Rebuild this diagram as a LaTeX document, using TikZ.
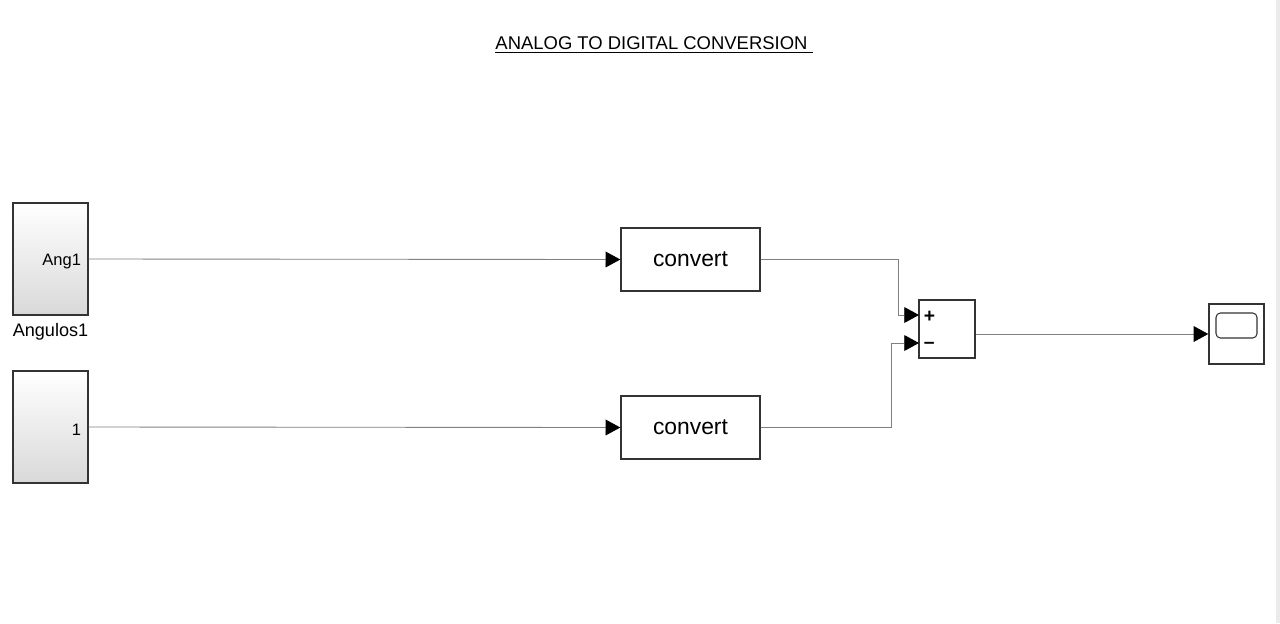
\documentclass[tikz,border=0pt]{standalone}
\usepackage{fontspec}
\setmainfont{Liberation Sans}
\usetikzlibrary{arrows.meta}

\tikzset{
  blk/.style={draw=black!80,line width=0.8pt,inner sep=0pt},
  srcblk/.style={blk,minimum width=1.5cm,minimum height=2.24cm,top color=white,bottom color=black!15},
  cvblk/.style={blk,fill=white,minimum width=2.78cm,minimum height=1.26cm,font=\fontsize{13}{15}\selectfont},
  sig/.style={draw=black!50,line width=0.5pt,-{Triangle[length=8.4pt,width=9pt,color=black,fill=black]}},
  wire/.style={draw=black!50,line width=0.5pt}
}

\begin{document}
\begin{tikzpicture}[x=0.02cm,y=-0.02cm]
\useasboundingbox (0,0) rectangle (1280,623);
\fill[black!8] (1276,0) rectangle (1280,623);

% title
\node (title) at (654,45) {\fontsize{10.5}{12}\selectfont\underline{ANALOG TO DIGITAL CONVERSION\ }};

% sources
\node[srcblk] (ang) at (50.5,259) {};
\node[anchor=east,font=\fontsize{9.4}{11}\selectfont] (angport) at ([xshift=-0.03cm,yshift=-0.06cm]ang.east) {Ang1};
\node[anchor=north,inner sep=4pt,font=\fontsize{10.3}{12}\selectfont] (angname) at (ang.south) {Angulos1};
\node[srcblk] (one) at (50.5,427) {};
\node[anchor=east,font=\fontsize{9.4}{11}\selectfont] (oneport) at ([xshift=-0.03cm,yshift=-0.06cm]one.east) {1};

% converters
\node[cvblk] (cv1) at (690.5,259.5) {convert};
\node[cvblk] (cv2) at (690.5,427.5) {convert};

% sum
\node[blk,minimum width=1.12cm,minimum height=1.16cm] (sum) at (947,329) {};
\coordinate (sp) at (919,315);
\coordinate (sm) at (919,343);
\node[anchor=west,inner sep=0pt,font=\fontsize{11}{12}\selectfont\bfseries] (plus) at ([xshift=0.09cm,yshift=-0.04cm]sp) {+};
\node[anchor=west,inner sep=0pt,font=\fontsize{11}{12}\selectfont\bfseries] (minus) at ([xshift=0.09cm,yshift=-0.05cm]sm) {--};

% scope
\node[blk,minimum width=1.1cm,minimum height=1.2cm] (scp) at (1236.5,334) {};
\node[draw=black!80,line width=0.6pt,rounded corners=2.5pt,minimum width=0.82cm,minimum height=0.5cm,inner sep=0pt] (screen) at ([yshift=0.17cm]scp.center) {};

% signals
\draw[sig] (ang.east) -- (cv1.west);
\draw[sig] (one.east) -- (cv2.west);
\draw[sig] (cv1.east) -| ([xshift=-0.42cm]sp) -- (sp);
\draw[sig] (cv2.east) -| ([xshift=-0.56cm]sm) -- (sm);
\draw[sig] (sum.east |- scp.west) -- (scp.west);
\end{tikzpicture}
\end{document}
